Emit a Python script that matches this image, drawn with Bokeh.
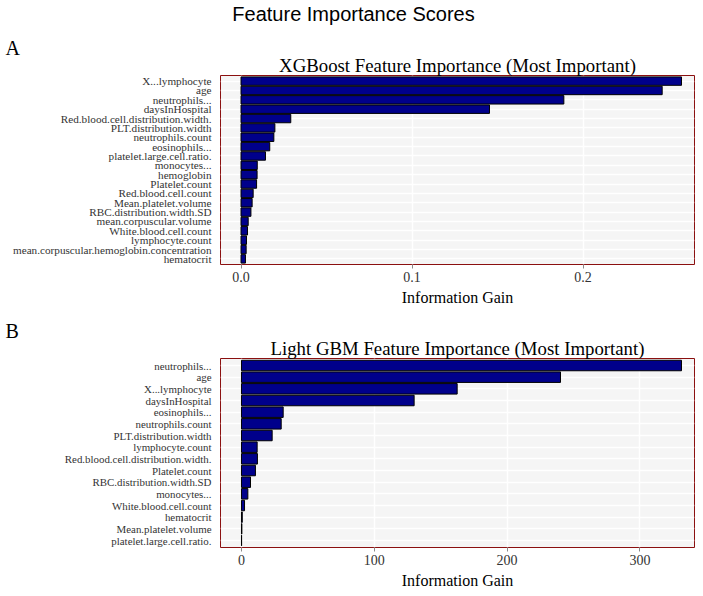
from bokeh.plotting import figure
from bokeh.models import Range1d, FactorRange, FixedTicker, Title, Label
from bokeh.layouts import column
from bokeh.embed import file_html
from bokeh.resources import INLINE

main_title = "Feature Importance Scores"

xgb_title = "XGBoost Feature Importance (Most Important)"
xgb_features = [
    "X...lymphocyte", "age", "neutrophils...", "daysInHospital",
    "Red.blood.cell.distribution.width.", "PLT.distribution.width",
    "neutrophils.count", "eosinophils...", "platelet.large.cell.ratio.",
    "monocytes...", "hemoglobin", "Platelet.count", "Red.blood.cell.count",
    "Mean.platelet.volume", "RBC.distribution.width.SD",
    "mean.corpuscular.volume", "White.blood.cell.count", "lymphocyte.count",
    "mean.corpuscular.hemoglobin.concentration", "hematocrit",
]
xgb_gain = [
    0.2576, 0.2463, 0.1888, 0.1453, 0.0291, 0.0198, 0.0192, 0.0168, 0.0143,
    0.0095, 0.0094, 0.0091, 0.0071, 0.0065, 0.0058, 0.0042, 0.0038, 0.0032,
    0.0030, 0.0026,
]
xgb_ticks = [0.0, 0.1, 0.2]
xgb_tick_labels = ["0.0", "0.1", "0.2"]

lgb_title = "Light GBM Feature Importance (Most Important)"
lgb_features = [
    "neutrophils...", "age", "X...lymphocyte", "daysInHospital",
    "eosinophils...", "neutrophils.count", "PLT.distribution.width",
    "lymphocyte.count", "Red.blood.cell.distribution.width.",
    "Platelet.count", "RBC.distribution.width.SD", "monocytes...",
    "White.blood.cell.count", "hematocrit", "Mean.platelet.volume",
    "platelet.large.cell.ratio.",
]
lgb_gain = [
    331.3, 240.2, 162.4, 130.0, 31.4, 29.9, 23.1, 11.8, 12.0, 10.5, 6.8,
    4.8, 2.3, 0.6, 0.3, 0.1,
]
lgb_ticks = [0, 100, 200, 300]
lgb_tick_labels = ["0", "100", "200", "300"]

axis_title = "Information Gain"

SERIF = "Liberation Serif"
SANS = "Liberation Sans"
FRAME_LEFT = 220
FRAME_W = 474
FRAME_H = 189
HEADER_H = 40


def make_title(text, align, offset, font, size, standoff):
    return Title(text=text, align=align, offset=offset, text_font=font,
                 text_font_size=size, text_font_style="normal",
                 text_color="black", standoff=standoff)


def make_header():
    h = figure(frame_width=FRAME_W, height=HEADER_H, x_range=Range1d(0, 1),
               y_range=Range1d(0, 1), output_backend="svg", toolbar_location=None,
               title=None, min_border_left=FRAME_LEFT, min_border_right=1,
               min_border_top=0, min_border_bottom=0)
    h.axis.visible = False
    h.grid.visible = False
    h.outline_line_color = None
    h.background_fill_color = "white"
    h.border_fill_color = "white"
    h.add_layout(Label(x=353 - FRAME_LEFT, y=HEADER_H - 13, x_units="screen",
                       y_units="screen", text=main_title, text_font=SANS,
                       text_font_size="20px", text_align="center",
                       text_baseline="middle", text_color="black"))
    return h


def make_panel(features, gains, ticks, tick_labels, xr, ylab_size, title, letter,
               bottom):
    yr = FactorRange(*list(reversed(features)), range_padding=0.1,
                     range_padding_units="absolute")
    p = figure(frame_width=FRAME_W, frame_height=FRAME_H, y_range=yr,
               x_range=Range1d(*xr), output_backend="svg", toolbar_location=None,
               title=None,
               min_border_left=FRAME_LEFT, min_border_right=1,
               min_border_top=0, min_border_bottom=bottom)
    p.background_fill_color = "#F5F5F5"
    p.border_fill_color = "white"
    p.outline_line_color = "#8B1010"
    p.outline_line_width = 1

    p.hbar(y=features, left=0, right=gains, height=0.9,
           fill_color="#00008B", line_color="black", line_width=1)

    p.xgrid.grid_line_color = "white"
    p.xgrid.grid_line_width = 1.5
    p.ygrid.grid_line_color = "white"
    p.ygrid.grid_line_width = 1.5

    xa = p.xaxis[0]
    xa.ticker = FixedTicker(ticks=ticks)
    xa.major_label_overrides = {t: l for t, l in zip(ticks, tick_labels)}
    xa.axis_line_color = None
    xa.major_tick_line_color = "#8A8A8A"
    xa.major_tick_out = 4
    xa.major_tick_in = 0
    xa.minor_tick_line_color = None
    xa.major_label_standoff = 3
    xa.major_label_text_font = SERIF
    xa.major_label_text_font_size = "14px"
    xa.major_label_text_color = "#333333"
    xa.axis_label = axis_title
    xa.axis_label_text_font = SERIF
    xa.axis_label_text_font_size = "16px"
    xa.axis_label_text_font_style = "normal"
    xa.axis_label_text_color = "black"
    xa.axis_label_standoff = 4

    ya = p.yaxis[0]
    ya.axis_line_color = None
    ya.major_tick_line_color = None
    ya.major_tick_out = 0
    ya.major_tick_in = 0
    ya.major_label_standoff = 9
    ya.major_label_text_font = SERIF
    ya.major_label_text_font_size = ylab_size
    ya.major_label_text_color = "#333333"

    p.add_layout(make_title(title, "center", 0, SERIF, "18.8px", 0), "above")
    p.add_layout(make_title(letter, "left", -FRAME_LEFT + 5, SERIF, "20px", -12), "above")
    return p


head = make_header()
pa = make_panel(xgb_features, xgb_gain, xgb_ticks, xgb_tick_labels,
                (-0.0120, 0.2652), "11.2px", xgb_title, "A", 59)
pb = make_panel(lgb_features, lgb_gain, lgb_ticks, lgb_tick_labels,
                (-15.8, 341.1), "10.9px", lgb_title, "B", 45)

layout = column(head, pa, pb, spacing=0)
open("out.html", "w").write(file_html(layout, INLINE))
